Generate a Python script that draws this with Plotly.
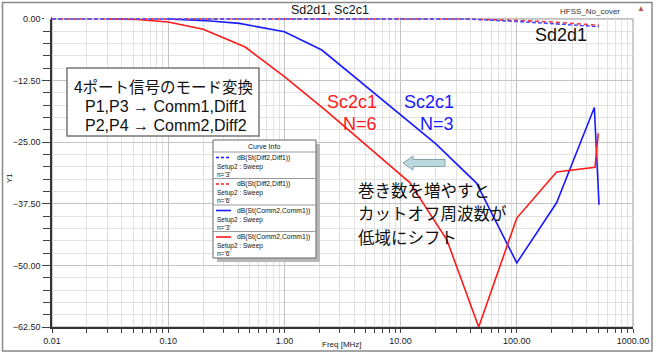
import plotly.graph_objects as go

# ---- data ----
freq_sc_n3 = [0.1, 0.23, 0.41, 1.0, 2.1, 20, 45, 100, 220, 465, 510]
db_sc_n3 = [0.0, -0.4, -0.9, -2.6, -6.3, -25.3, -33.3, -49.5, -37.3, -17.95, -37.7]

freq_sc_n6 = [0.03, 0.054, 0.1, 0.2, 0.46, 1.0, 2.28, 12, 25, 47, 100, 220, 471, 502]
db_sc_n6 = [0.0, -0.1, -0.6, -2.1, -5.7, -11.7, -18.6, -33.2, -44.8, -62.5, -40.4, -31.05, -30.1, -23.2]

freq_sd = [0.01, 37, 100, 200, 510]
db_sd_n3 = [0.0, 0.0, -0.5, -0.9, -1.56]
db_sd_n6 = [0.0, 0.0, -0.3, -0.6, -1.3]

x_tickvals = [0.01, 0.1, 1, 10, 100, 1000]
x_ticktext = ["0.01", "0.10", "1.00", "10.00", "100.00", "1000.00"]
y_tickvals = [0, -12.5, -25, -37.5, -50, -62.5]

legend_entries = [
    ("dB(St(Diff2,Diff1))", "n='3'", "#1a1aff", "dash"),
    ("dB(St(Diff2,Diff1))", "n='6'", "#ff1a1a", "dash"),
    ("dB(St(Comm2,Comm1))", "n='3'", "#1a1aff", "solid"),
    ("dB(St(Comm2,Comm1))", "n='6'", "#ff1a1a", "solid"),
]

BLUE = "#1a1aff"
RED = "#ff1a1a"
FONT = "Liberation Sans, Arial, Noto Sans CJK JP"
JFONT = "Noto Sans CJK JP, Liberation Sans"

W, H = 656, 355
L, R, T, B = 52, 633, 17, 327
Y_TOP = 0.4  # small headroom so the 0 dB lines are not clipped


def xp(px):
    return (px - L) / (R - L)


def yp(py):
    return (B - py) / (B - T)


fig = go.Figure()
fig.add_trace(go.Scatter(x=freq_sc_n3, y=db_sc_n3, mode="lines", line=dict(color=BLUE, width=1.6),
                         showlegend=False))
fig.add_trace(go.Scatter(x=freq_sc_n6, y=db_sc_n6, mode="lines", line=dict(color=RED, width=1.6),
                         showlegend=False))
fig.add_trace(go.Scatter(x=freq_sd, y=db_sd_n6, mode="lines", line=dict(color="#ff3030", width=1.6, dash="4px,3px"),
                         showlegend=False))
fig.add_trace(go.Scatter(x=freq_sd, y=db_sd_n3, mode="lines", line=dict(color="#5050ff", width=1.6, dash="4px,2px"),
                         showlegend=False))

minor_x = [k * 10 ** e for e in range(-2, 3) for k in range(2, 10)]

fig.update_xaxes(type="log", range=[-2, 3], tickvals=x_tickvals, ticktext=x_ticktext, automargin=False,
                 ticks="outside", ticklen=4, tickcolor="#444", showline=True, linecolor="#333", linewidth=1.5,
                 showgrid=True, gridcolor="#c4c4c4", gridwidth=1, zeroline=False,
                 tickfont=dict(size=9, color="#222", family=FONT),
                 minor=dict(tickvals=minor_x, ticks="outside", ticklen=4, tickcolor="#444",
                            showgrid=True, gridcolor="#e2e2e2", gridwidth=1))
fig.update_yaxes(range=[-62.5, Y_TOP], tickvals=y_tickvals, tickformat=".2f", automargin=False,
                 ticks="outside", ticklen=8, tickcolor="#444", showline=True, linecolor="#333", linewidth=1.5,
                 showgrid=True, gridcolor="#c4c4c4", gridwidth=1, zeroline=False,
                 tickfont=dict(size=9, color="#222", family=FONT),
                 minor=dict(tick0=0, dtick=2.5, ticks="outside", ticklen=7, tickcolor="#444",
                            showgrid=True, gridcolor="#e2e2e2", gridwidth=1))

shapes = []
# outer frame
shapes.append(dict(type="rect", xref="paper", yref="paper", x0=xp(2.5), x1=xp(652), y0=yp(351), y1=yp(2.5),
                   line=dict(color="#888", width=1.5), layer="below"))
# plot area frame (top/right)
shapes.append(dict(type="rect", xref="paper", yref="paper", x0=0, x1=1, y0=0, y1=yp(19),
                   line=dict(color="#999", width=1), layer="below"))
# cover the tiny headroom strip above 0 dB on the left axis
shapes.append(dict(type="rect", xref="paper", yref="paper", x0=xp(44), x1=xp(51.2), y0=yp(19.2), y1=1.0,
                   line=dict(width=0), fillcolor="white", layer="above"))

annotations = []


def txt(s, x, y, size, color="#111", xanchor="center", family=FONT, **kw):
    annotations.append(dict(text=s, xref="paper", yref="paper", x=xp(x), y=yp(y), xanchor=xanchor,
                            yanchor="middle", showarrow=False, borderpad=0,
                            font=dict(size=size, color=color, family=family), **kw))


# titles
txt("Sd2d1, Sc2c1", 330, 10, 12.5, "#111")
txt("HFSS_No_cover", 590, 11, 8, "#333")
txt("▲", 641, 9, 8, "#c05050")
txt("Y1", 10, 178, 8, "#222", textangle=-90)
txt("Freq [MHz]", 342, 344, 8, "#222")

# mode conversion box
shapes.append(dict(type="rect", xref="paper", yref="paper", x0=xp(67), x1=xp(259), y0=yp(136), y1=yp(68),
                   line=dict(color="#777", width=1.5), fillcolor="white"))
txt("4ポート信号のモード変換", 163, 86, 15.5, "#111", family=JFONT)
txt("P1,P3 → Comm1,Diff1", 166, 106, 16, "#111")
txt("P2,P4 → Comm2,Diff2", 166, 126, 16, "#111")

# curve labels
txt("Sc2c1", 378, 102, 18, RED, xanchor="right")
txt("N=6", 378, 124, 18, RED, xanchor="right")
txt("Sc2c1", 455, 102, 18, BLUE, xanchor="right")
txt("N=3", 455, 124, 18, BLUE, xanchor="right")
txt("Sd2d1", 534, 35, 18, "#111", xanchor="left")

# arrow
ax = [403, 413, 413, 445, 445, 413, 413]
ay = [163, 156, 159.5, 159.5, 166.5, 166.5, 170]
path = "M " + " L ".join(f"{xp(a):.5f},{yp(b):.5f}" for a, b in zip(ax, ay)) + " Z"
shapes.append(dict(type="path", xref="paper", yref="paper", path=path,
                   fillcolor="#bcd9de", line=dict(color="#7fa3aa", width=1)))

# japanese note
txt("巻き数を増やすと", 357, 190, 16.5, "#111", xanchor="left", family=JFONT)
txt("カットオフ周波数が", 357, 213, 16.5, "#111", xanchor="left", family=JFONT)
txt("低域にシフト", 357, 237, 16.5, "#111", xanchor="left", family=JFONT)

# Curve Info box
bx0, bx1, by0, by1 = 213, 316, 140, 258
shapes.append(dict(type="rect", xref="paper", yref="paper", x0=xp(bx0 + 4), x1=xp(bx1 + 4), y0=yp(by1 + 4),
                   y1=yp(by0 + 4), line=dict(width=0), fillcolor="#b8b8b8"))
shapes.append(dict(type="rect", xref="paper", yref="paper", x0=xp(bx0), x1=xp(bx1), y0=yp(by1),
                   y1=yp(by0), line=dict(color="#666", width=1), fillcolor="white"))
txt("Curve Info", 264, 146, 7, "#111")
shapes.append(dict(type="line", xref="paper", yref="paper", x0=xp(bx0), x1=xp(bx1), y0=yp(152), y1=yp(152),
                   line=dict(color="#999", width=1)))
for i, (name, n, col, dash) in enumerate(legend_entries):
    top = 152 + i * 26.5
    ly = top + 5.5
    shapes.append(dict(type="line", xref="paper", yref="paper", x0=xp(216), x1=xp(231), y0=yp(ly), y1=yp(ly),
                       line=dict(color=col, width=1.6, dash="3px,2px" if dash == "dash" else "solid")))
    txt(name, 236, ly, 6.8, "#111", xanchor="left")
    txt("Setup2 : Sweep<br>" + n, 216, ly + 12.5, 6.5, "#111", xanchor="left", align="left")
    if i < 3:
        sy = top + 26.5
        shapes.append(dict(type="line", xref="paper", yref="paper", x0=xp(bx0), x1=xp(bx1), y0=yp(sy), y1=yp(sy),
                           line=dict(color="#999", width=1)))

fig.update_layout(width=W, height=H, margin=dict(l=L, r=W - R, t=T, b=H - B),
                  paper_bgcolor="white", plot_bgcolor="white", showlegend=False,
                  font=dict(family=FONT), shapes=shapes, annotations=annotations)

fig.write_html("out.html", config={"displayModeBar": False},
               post_script="document.body.style.margin='0px';document.body.style.overflow='hidden';")
